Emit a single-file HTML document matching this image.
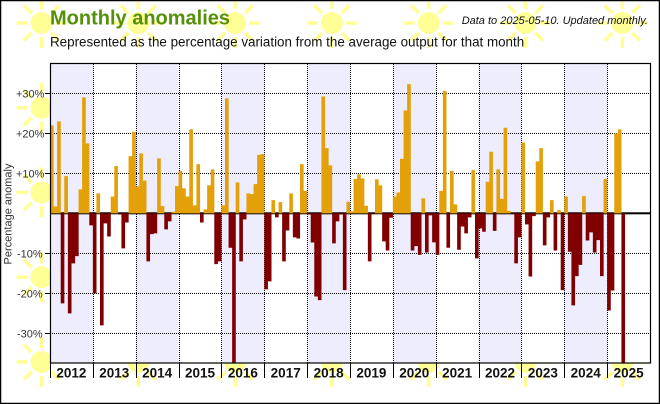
<!DOCTYPE html>
<html><head><meta charset="utf-8"><style>
html,body{margin:0;padding:0;background:#fff;}
svg{display:block;font-family:"Liberation Sans",Arial,sans-serif;}
</style></head><body>
<svg width="660" height="404" viewBox="0 0 660 404" xmlns="http://www.w3.org/2000/svg">
<defs>
<g id="sun" fill="#ffff96" stroke="#ffff96">
<circle r="11" stroke="none"/>
<path d="M14 0H25M-14 0H-25M0 14V25M0 -14V-25M9.9 9.9L17.7 17.7M-9.9 9.9L-17.7 17.7M9.9 -9.9L17.7 -17.7M-9.9 -9.9L-17.7 -17.7" stroke-width="3.5" fill="none"/>
</g>
<clipPath id="pc"><rect x="50" y="63.5" width="600" height="299.5"/></clipPath>
</defs>
<rect x="0" y="0" width="660" height="404" fill="#fff"/>
<g>
<use href="#sun" x="41.5" y="23"/><use href="#sun" x="138.3" y="23"/><use href="#sun" x="235.1" y="23"/><use href="#sun" x="331.9" y="23"/><use href="#sun" x="428.7" y="23"/><use href="#sun" x="525.5" y="23"/><use href="#sun" x="622.3" y="23"/>
<use href="#sun" x="41.5" y="107.7"/><use href="#sun" x="622.3" y="107.7"/>
<use href="#sun" x="41.5" y="192.5"/><use href="#sun" x="622.3" y="192.5"/>
<use href="#sun" x="41.5" y="277.2"/><use href="#sun" x="622.3" y="277.2"/>
<use href="#sun" x="41.5" y="362"/><use href="#sun" x="138.3" y="362"/><use href="#sun" x="235.1" y="362"/><use href="#sun" x="331.9" y="362"/><use href="#sun" x="428.7" y="362"/><use href="#sun" x="525.5" y="362"/><use href="#sun" x="622.3" y="362"/>
</g>
<rect x="50" y="63.5" width="600" height="299.5" fill="#fff"/>
<g fill="#ededfd">
<rect x="50" y="63.5" width="42.86" height="299.5"/>
<rect x="135.71" y="63.5" width="42.86" height="299.5"/>
<rect x="221.43" y="63.5" width="42.86" height="299.5"/>
<rect x="307.14" y="63.5" width="42.86" height="299.5"/>
<rect x="392.86" y="63.5" width="42.86" height="299.5"/>
<rect x="478.57" y="63.5" width="42.86" height="299.5"/>
<rect x="564.29" y="63.5" width="42.86" height="299.5"/>
</g>
<g stroke="#000" stroke-width="1" stroke-dasharray="1 1" shape-rendering="crispEdges" fill="none">
<path d="M93.5 64V363M136.5 64V363M179.5 64V363M221.5 64V363M264.5 64V363M307.5 64V363M350.5 64V363M393.5 64V363M436.5 64V363M479.5 64V363M521.5 64V363M564.5 64V363M607.5 64V363"/>
<path d="M50 93.5H650M50 133.5H650M50 173.5H650M50 253.5H650M50 293.5H650M50 333.5H650"/>
</g>
<rect x="50" y="212.3" width="600" height="2" fill="#000"/>
<g clip-path="url(#pc)">
<g transform="translate(50,213.33) scale(3.5714,-4)">
<path fill="#e3a008" d="M0 0h1.02v22h-1.02zM1 0h1.02v1.7h-1.02zM2 0h1.02v23h-1.02zM4 0h1.02v9.3h-1.02zM8 0h1.02v6h-1.02zM9 0h1.02v29h-1.02zM10 0h1.02v17.5h-1.02zM13 0h1.02v5h-1.02zM17 0h1.02v4.2h-1.02zM18 0h1.02v11.8h-1.02zM22 0h1.02v14.3h-1.02zM23 0h1.02v20.4h-1.02zM24 0h1.02v6.7h-1.02zM25 0h1.02v15h-1.02zM26 0h1.02v8.2h-1.02zM30 0h1.02v13.75h-1.02zM31 0h1.02v1.8h-1.02zM34 0h1.02v0.4h-1.02zM35 0h1.02v6.8h-1.02zM36 0h1.02v10.6h-1.02zM37 0h1.02v6.25h-1.02zM38 0h1.02v4.2h-1.02zM39 0h1.02v21h-1.02zM40 0h1.02v2h-1.02zM41 0h1.02v12.3h-1.02zM43 0h1.02v1h-1.02zM44 0h1.02v7h-1.02zM45 0h1.02v11h-1.02zM48 0h1.02v2h-1.02zM49 0h1.02v28.75h-1.02zM52 0h1.02v7.75h-1.02zM55 0h1.02v5h-1.02zM56 0h1.02v4.8h-1.02zM57 0h1.02v7.3h-1.02zM58 0h1.02v14.6h-1.02zM59 0h1.02v14.8h-1.02zM62 0h1.02v3.3h-1.02zM64 0h1.02v2.8h-1.02zM67 0h1.02v5h-1.02zM70 0h1.02v12.3h-1.02zM71 0h1.02v5.6h-1.02zM76 0h1.02v29.2h-1.02zM77 0h1.02v16.3h-1.02zM78 0h1.02v12h-1.02zM83 0h1.02v2.9h-1.02zM84 0h1.02v0.5h-1.02zM85 0h1.02v8.6h-1.02zM86 0h1.02v9.75h-1.02zM87 0h1.02v8.75h-1.02zM88 0h1.02v1.9h-1.02zM91 0h1.02v8.5h-1.02zM92 0h1.02v7h-1.02zM96 0h1.02v4.2h-1.02zM97 0h1.02v5.2h-1.02zM98 0h1.02v13.6h-1.02zM99 0h1.02v25.7h-1.02zM100 0h1.02v32.3h-1.02zM104 0h1.02v3.75h-1.02zM109 0h1.02v5.6h-1.02zM110 0h1.02v30.6h-1.02zM112 0h1.02v10.6h-1.02zM113 0h1.02v2.25h-1.02zM118 0h1.02v10.8h-1.02zM122 0h1.02v7.9h-1.02zM123 0h1.02v15.4h-1.02zM125 0h1.02v11h-1.02zM126 0h1.02v3.6h-1.02zM127 0h1.02v21.4h-1.02zM128 0h1.02v0.6h-1.02zM132 0h1.02v17.7h-1.02zM136 0h1.02v13h-1.02zM137 0h1.02v16.3h-1.02zM140 0h1.02v3.3h-1.02zM142 0h1.02v0.8h-1.02zM144 0h1.02v4.2h-1.02zM149 0h1.02v4.3h-1.02zM155 0h1.02v8.6h-1.02zM158 0h1.02v20h-1.02zM159 0h1.02v21h-1.02z"/>
<path fill="#800000" d="M3 0h1.02v-22.5h-1.02zM5 0h1.02v-25h-1.02zM6 0h1.02v-12.5h-1.02zM7 0h1.02v-10.7h-1.02zM11 0h1.02v-3h-1.02zM12 0h1.02v-20h-1.02zM14 0h1.02v-28h-1.02zM15 0h1.02v-2.5h-1.02zM16 0h1.02v-5.8h-1.02zM19 0h1.02v-0.3h-1.02zM20 0h1.02v-8.75h-1.02zM21 0h1.02v-2.3h-1.02zM27 0h1.02v-12h-1.02zM28 0h1.02v-5.2h-1.02zM29 0h1.02v-5h-1.02zM32 0h1.02v-4h-1.02zM33 0h1.02v-2h-1.02zM42 0h1.02v-2.3h-1.02zM46 0h1.02v-12.7h-1.02zM47 0h1.02v-12h-1.02zM50 0h1.02v-8.6h-1.02zM51 0h1.02v-40h-1.02zM53 0h1.02v-12h-1.02zM54 0h1.02v-1.5h-1.02zM60 0h1.02v-19h-1.02zM61 0h1.02v-17h-1.02zM63 0h1.02v-1h-1.02zM65 0h1.02v-12h-1.02zM66 0h1.02v-4.3h-1.02zM68 0h1.02v-6h-1.02zM69 0h1.02v-6.3h-1.02zM72 0h1.02v-0.3h-1.02zM73 0h1.02v-7.3h-1.02zM74 0h1.02v-20.8h-1.02zM75 0h1.02v-21.7h-1.02zM79 0h1.02v-7.5h-1.02zM80 0h1.02v-2h-1.02zM81 0h1.02v-0.3h-1.02zM82 0h1.02v-19.2h-1.02zM89 0h1.02v-12h-1.02zM90 0h1.02v-0.2h-1.02zM93 0h1.02v-7h-1.02zM94 0h1.02v-9.3h-1.02zM95 0h1.02v-1.1h-1.02zM101 0h1.02v-9.3h-1.02zM102 0h1.02v-8.2h-1.02zM103 0h1.02v-10.4h-1.02zM105 0h1.02v-9.8h-1.02zM106 0h1.02v-0.5h-1.02zM107 0h1.02v-7.25h-1.02zM108 0h1.02v-10.4h-1.02zM111 0h1.02v-8.6h-1.02zM114 0h1.02v-9.1h-1.02zM115 0h1.02v-3.3h-1.02zM116 0h1.02v-5h-1.02zM117 0h1.02v-1h-1.02zM119 0h1.02v-11.25h-1.02zM120 0h1.02v-3.75h-1.02zM121 0h1.02v-4.6h-1.02zM124 0h1.02v-4.4h-1.02zM129 0h1.02v-0.2h-1.02zM130 0h1.02v-12.5h-1.02zM131 0h1.02v-6h-1.02zM133 0h1.02v-2.75h-1.02zM134 0h1.02v-15.8h-1.02zM135 0h1.02v-0.7h-1.02zM138 0h1.02v-8h-1.02zM139 0h1.02v-1h-1.02zM141 0h1.02v-9.3h-1.02zM143 0h1.02v-19.2h-1.02zM145 0h1.02v-9.6h-1.02zM146 0h1.02v-23h-1.02zM147 0h1.02v-15.7h-1.02zM148 0h1.02v-12.9h-1.02zM150 0h1.02v-6.8h-1.02zM151 0h1.02v-4.75h-1.02zM152 0h1.02v-9.8h-1.02zM153 0h1.02v-6.7h-1.02zM154 0h1.02v-15.7h-1.02zM156 0h1.02v-24.3h-1.02zM157 0h1.02v-19.3h-1.02zM160 0h1.02v-40h-1.02z"/>
</g>
</g>
<rect x="50.5" y="63.5" width="600" height="299.5" fill="none" stroke="#000" stroke-width="1.2"/>
<g stroke="#000" stroke-width="1" shape-rendering="crispEdges">
<path d="M50.5 363V378M93.5 363V378M136.5 363V378M179.5 363V378M221.5 363V378M264.5 363V378M307.5 363V378M350.5 363V378M393.5 363V378M436.5 363V378M479.5 363V378M521.5 363V378M564.5 363V378M607.5 363V378"/>
<path d="M45 93.5H50M45 133.5H50M45 173.5H50M45 253.5H50M45 293.5H50M45 333.5H50"/>
</g>
<g font-size="11" fill="#333">
<text x="16" y="97.3">+30%</text>
<text x="16" y="137.3">+20%</text>
<text x="16" y="177.3">+10%</text>
<text x="17" y="257.3">-10%</text>
<text x="17" y="297.3">-20%</text>
<text x="17" y="337.3">-30%</text>
<text transform="translate(11.5,214) rotate(-90)" text-anchor="middle">Percentage anomaly</text>
</g>
<g font-size="13.5" font-weight="bold" fill="#111" text-anchor="middle">
<text x="71.4" y="377.5">2012</text>
<text x="114.3" y="377.5">2013</text>
<text x="157.1" y="377.5">2014</text>
<text x="200" y="377.5">2015</text>
<text x="242.9" y="377.5">2016</text>
<text x="285.7" y="377.5">2017</text>
<text x="328.6" y="377.5">2018</text>
<text x="371.4" y="377.5">2019</text>
<text x="414.3" y="377.5">2020</text>
<text x="457.1" y="377.5">2021</text>
<text x="500" y="377.5">2022</text>
<text x="542.9" y="377.5">2023</text>
<text x="585.7" y="377.5">2024</text>
<text x="628.6" y="377.5">2025</text>
</g>
<text x="50" y="24.5" font-size="20" font-weight="bold" fill="#54900a">Monthly anomalies</text>
<text x="50" y="46.5" font-size="13.4" fill="#111">Represented as the percentage variation from the average output for that month</text>
<text x="648" y="24" font-size="11" font-style="italic" fill="#111" text-anchor="end">Data to 2025-05-10. Updated monthly.</text>
<rect x="0.5" y="0.5" width="659" height="403" fill="none" stroke="#000" stroke-width="1.5"/>
</svg>
</body></html>
